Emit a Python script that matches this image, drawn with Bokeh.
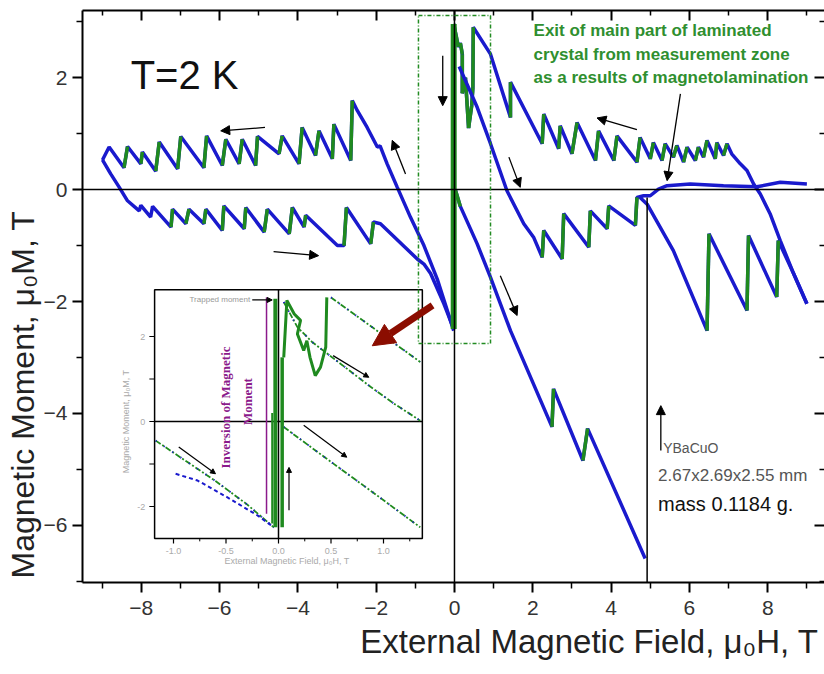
import numpy as np
from bokeh.plotting import figure
from bokeh.models import (Range1d, LinearAxis, FixedTicker, Label, Span, Arrow, Title,
                          NormalHead, ColumnDataSource, BoxAnnotation)
from bokeh.core.properties import value
from bokeh.embed import file_html
from bokeh.resources import INLINE

BLUE = "#1a1acd"
GREEN = "#1f8a1f"
FONT = "Liberation Sans"

# ---------------- main data: field (T) vs moment (T) ----------------
ul_x = [-8.99, -8.82, -8.44, -8.35, -8.01, -7.97, -7.63, -7.54, -7.07, -6.99, -6.40, -6.33, -5.93,
        -5.84, -5.50, -5.42, -5.08, -5.03, -4.48, -4.40, -3.97, -3.89, -3.55, -3.46, -3.12, -3.08,
        -2.65, -2.61, -2.48, -2.23, -1.97, -1.90, -1.72, -1.46, -1.12, -0.78, -0.44, -0.02]
ul_y = [0.53, 0.76, 0.39, 0.77, 0.46, 0.67, 0.33, 0.85, 0.37, 0.95, 0.39, 0.96, 0.43,
        0.90, 0.46, 0.90, 0.43, 0.95, 0.64, 0.96, 0.46, 1.11, 0.61, 1.05, 0.55, 1.17,
        0.52, 1.59, 1.41, 1.11, 0.76, 0.78, 0.46, 0.04, -0.50, -1.00, -1.60, -2.52]

ll_x = [-8.99, -8.78, -8.56, -8.35, -8.05, -8.01, -7.76, -7.71, -7.24, -7.20, -6.86, -6.78, -6.40,
        -6.35, -5.93, -5.89, -5.37, -5.33, -4.86, -4.78, -4.22, -4.14, -3.84, -3.80, -2.99, -2.82,
        -2.76, -2.14, -2.07, -1.89, -0.95, -0.78, -0.61, -0.27, -0.02]
ll_y = [0.53, 0.28, 0.04, -0.20, -0.38, -0.28, -0.49, -0.30, -0.67, -0.35, -0.61, -0.35, -0.61,
        -0.35, -0.73, -0.29, -0.70, -0.32, -0.76, -0.35, -0.79, -0.32, -0.67, -0.46, -1.00, -1.00,
        -0.32, -0.97, -0.58, -0.61, -1.24, -1.33, -1.50, -2.04, -2.49]

ur_x = [-0.02, 0.10, 0.15, 0.20, 0.20, 0.28, 0.36, 0.44, 0.47, 0.48, 0.92, 1.43, 1.43, 2.24, 2.28,
        2.66, 2.70, 3.00, 3.13, 3.60, 3.68, 4.07, 4.15, 4.66, 4.74, 5.00, 5.08, 5.30, 5.38, 5.59,
        5.68, 5.85, 5.94, 6.15, 6.23, 6.36, 6.45, 6.66, 6.70, 6.87, 6.96, 7.08, 7.30, 7.47, 7.64,
        7.81, 8.06, 8.32, 8.66, 9.00]
ur_y = [2.96, 2.55, 2.62, 2.42, 1.72, 2.00, 1.10, 1.50, 1.82, 2.90, 2.42, 1.29, 1.92, 0.82, 1.35,
        0.73, 1.14, 0.64, 1.20, 0.52, 1.05, 0.52, 0.96, 0.49, 0.93, 0.55, 0.84, 0.52, 0.82, 0.58,
        0.79, 0.49, 0.76, 0.52, 0.76, 0.58, 0.88, 0.55, 0.84, 0.61, 0.82, 0.64, 0.46, 0.34, 0.10,
        -0.08, -0.43, -0.91, -1.50, -2.04]

mid_x = [0.12, 0.58, 0.92, 1.34, 1.77, 2.02, 2.24, 2.28, 2.75, 2.79, 3.43, 3.47, 3.90, 3.94, 4.62,
         4.66, 4.83, 5.00, 5.21, 5.43, 6.02, 6.87, 7.72, 8.32, 9.00]
mid_y = [2.20, 1.47, 0.82, -0.02, -0.61, -0.85, -1.21, -0.73, -1.24, -0.43, -1.03, -0.38, -0.70,
         -0.29, -0.64, -0.14, -0.11, -0.11, 0.01, 0.07, 0.10, 0.07, 0.05, 0.13, 0.10]

vir_x = [0.02, 0.15, 0.58, 0.92, 1.43, 2.49, 2.53, 3.28, 3.40, 4.87]
vir_y = [0.00, -0.30, -0.97, -1.57, -2.52, -4.24, -3.56, -4.84, -4.27, -6.59]

rd_x = [4.74, 4.92, 5.59, 6.45, 6.50, 7.47, 7.51, 8.23, 8.27, 8.66, 9.00]
rd_y = [-0.14, -0.26, -1.09, -2.52, -0.79, -2.16, -0.82, -1.92, -0.91, -1.50, -2.04]

jump_x = [-0.02, -0.02]
jump_y = [-2.49, 2.96]

exit_x = [4.92, 4.92]
exit_y = [-0.14, -7.55]

x_major = [-8, -6, -4, -2, 0, 2, 4, 6, 8]
x_minor = [-9, -7, -5, -3, -1, 1, 3, 5, 7, 9]
y_major = [-6, -4, -2, 0, 2]
y_minor = [-7, -5, -3, -1, 1, 3]

arr_x0 = [-4.84, -4.62, -1.25, -0.30, 1.39, 1.17, 4.66, 5.77, 5.27]
arr_y0 = [1.11, -1.11, 0.28, 2.39, 0.58, -1.54, 1.07, 1.71, -4.66]
arr_x1 = [-5.97, -3.47, -1.59, -0.30, 1.68, 1.60, 3.64, 5.43, 5.27]
arr_y1 = [1.05, -1.18, 0.88, 1.50, 0.04, -2.25, 1.28, 0.16, -3.86]

# ---------------- inset data ----------------
in_a_x = [0.50, 1.35]
in_a_y = [2.92, 1.40]
in_b_x = [0.05, 0.18, 0.32, 0.59, 0.88, 1.10, 1.35]
in_b_y = [2.81, 2.22, 1.87, 1.36, 0.81, 0.42, 0.02]
in_c_x = [0.05, 0.45, 0.90, 1.35]
in_c_y = [-0.13, -0.86, -1.67, -2.49]
in_d_x = [-1.17, -0.60, -0.30, -0.045]
in_d_y = [-0.45, -1.40, -1.95, -2.49]
in_e_x = [-0.98, -0.77, -0.49, -0.20, -0.045]
in_e_y = [-1.23, -1.39, -1.78, -2.21, -2.49]
in_osc_x = [0.05, 0.08, 0.15, 0.21, 0.18, 0.24, 0.27, 0.30, 0.35, 0.40, 0.45, 0.46]
in_osc_y = [1.51, 2.85, 2.53, 2.38, 2.06, 1.67, 1.90, 1.51, 1.08, 1.28, 1.75, 2.92]
in_v1_x = [-0.03, -0.03]
in_v1_y = [-2.49, 2.89]
in_v2_x = [0.035, 0.035]
in_v2_y = [-2.49, 1.51]
in_v3_x = [-0.06, -0.06]
in_v3_y = [-2.40, 0.20]
in_purple_x = [-0.114, -0.114]
in_purple_y = [2.92, -2.17]
in_x_ticks = [-1.0, -0.5, 0.0, 0.5, 1.0]
in_x_minor = [-0.75, -0.25, 0.25, 0.75, 1.25]
in_x_labels = ["-1.0", "-0.5", "0.0", "0.5", "1.0"]
in_y_ticks = [-2, -1, 0, 1, 2]
in_y_labels = ["-2", "0", "2"]
in_y_label_pos = [-2, 0, 2]

in_arr_x0 = [0.52, 0.24, -0.95, 0.10, -0.25]
in_arr_y0 = [1.55, -0.09, -0.60, -2.09, 2.86]
in_arr_x1 = [0.86, 0.65, -0.60, 0.10, -0.06]
in_arr_y1 = [1.04, -0.84, -1.23, -1.08, 2.86]

IN_L, IN_R, IN_B, IN_T = -1.18, 1.37, -2.75, 3.10

# ---------------- figure ----------------
p = figure(width=824, height=674, x_range=Range1d(-9.5, 9.45), y_range=Range1d(-7.02, 3.2),
           output_backend="svg", toolbar_location=None,
           min_border_left=82, min_border_right=0, min_border_top=10, min_border_bottom=92)
p.extra_x_ranges = {"ix": Range1d((82 - 278) / 105.0, (824 - 278) / 105.0)}
p.extra_y_ranges = {"iy": Range1d((421 - 582) / 42.5, (421 - 10) / 42.5)}
p.grid.visible = False
p.outline_line_color = None
p.background_fill_color = "white"
p.border_fill_color = "white"

for ax, maj, mnr in ((p.xaxis, x_major, x_minor), (p.yaxis, y_major, y_minor)):
    ax.ticker = FixedTicker(ticks=maj, minor_ticks=mnr)
    ax.axis_line_width = 2
    ax.major_tick_line_width = 2
    ax.minor_tick_line_width = 1.5
    ax.major_tick_out = 10
    ax.major_tick_in = 0
    ax.minor_tick_out = 6
    ax.minor_tick_in = 0
    ax.major_label_text_font = FONT
    ax.major_label_text_font_size = "21px"
    ax.major_label_text_color = "#333333"
p.xaxis.major_label_standoff = 8
p.yaxis.major_label_standoff = 5

for loc, maj, mnr in (("above", x_major, x_minor), ("right", y_major, y_minor)):
    a = LinearAxis(ticker=FixedTicker(ticks=maj, minor_ticks=mnr),
                   major_tick_in=10, major_tick_out=0, minor_tick_in=5, minor_tick_out=0,
                   major_label_text_font_size="1px", major_label_text_color=None,
                   major_label_standoff=0,
                   axis_line_width=2, major_tick_line_width=2, minor_tick_line_width=1.5,
                   axis_line_color="black" if loc == "above" else None)
    p.add_layout(a, loc)

# axis titles as side titles (outside the frame)
p.add_layout(Title(text="External Magnetic Field, μ₀H, T", align="right", offset=6, standoff=6,
                   text_font=FONT, text_font_size="33px", text_font_style="normal",
                   text_color="#222222"), "below")
p.add_layout(Title(text="Magnetic Moment, μ₀M, T", align="left", offset=4, standoff=0,
                   text_font=FONT, text_font_size="32px", text_font_style="normal",
                   text_color="#222222"), "left")

# zero lines
p.add_layout(Span(location=0, dimension="width", line_color="black", line_width=1.5))
p.add_layout(Span(location=0, dimension="height", line_color="black", line_width=1.5))

# dashed selection box
p.add_layout(BoxAnnotation(left=-0.92, right=0.92, bottom=-2.75, top=3.11, fill_alpha=0,
                           line_color="#228b22", line_alpha=1.0, line_width=1.5,
                           line_dash="4 2 1 2"))


def branch(xs, ys, width=3.5):
    p.line(xs, ys, line_color=BLUE, line_width=width)
    gx0, gy0, gx1, gy1 = [], [], [], []
    for i in range(len(xs) - 1):
        if abs(xs[i + 1] - xs[i]) < 0.15 and abs(ys[i + 1] - ys[i]) > 0.2:
            gx0.append(xs[i]); gy0.append(ys[i]); gx1.append(xs[i + 1]); gy1.append(ys[i + 1])
    p.segment(gx0, gy0, gx1, gy1, line_color=GREEN, line_width=width)


for bx, by in ((ul_x, ul_y), (ll_x, ll_y), (ur_x, ur_y), (mid_x, mid_y), (vir_x, vir_y), (rd_x, rd_y)):
    branch(bx, by)

p.line(jump_x, jump_y, line_color=GREEN, line_width=6)
p.line(exit_x, exit_y, line_color="black", line_width=1.5)

# black arrows
asrc = ColumnDataSource(dict(x0=arr_x0, y0=arr_y0, x1=arr_x1, y1=arr_y1))
p.add_layout(Arrow(end=NormalHead(size=9, fill_color="black", line_color="black"), source=asrc,
                   x_start="x0", y_start="y0", x_end="x1", y_end="y1", line_width=1.3))

# ---------------- inset ----------------
IR = dict(x_range_name="ix", y_range_name="iy")
p.quad(left=[IN_L], right=[IN_R], bottom=[IN_B], top=[IN_T], fill_color="white",
       line_color="black", line_width=1.5, **IR)
p.segment(x0=[IN_L, 0], y0=[0, IN_B], x1=[IN_R, 0], y1=[0, IN_T], line_color="black", line_width=1.5, **IR)
p.segment(x0=in_x_ticks, y0=[IN_B] * 5, x1=in_x_ticks, y1=[IN_B - 0.12] * 5, line_color="black", line_width=1.2, **IR)
p.segment(x0=in_x_minor, y0=[IN_B] * 5, x1=in_x_minor, y1=[IN_B - 0.07] * 5, line_color="black", line_width=1, **IR)
p.segment(x0=[IN_L] * 5, y0=in_y_ticks, x1=[IN_L - 0.05] * 5, y1=in_y_ticks, line_color="black", line_width=1.2, **IR)

for ix, iy in ((in_a_x, in_a_y), (in_b_x, in_b_y), (in_c_x, in_c_y), (in_d_x, in_d_y)):
    p.line(ix, iy, line_color=GREEN, line_width=1.8, line_dash="6 2 2 2", **IR)
    p.line(ix, iy, line_color=BLUE, line_width=2, line_dash="1 9", **IR)
p.line(in_e_x, in_e_y, line_color=BLUE, line_width=2, line_dash="4 3", **IR)
p.line(in_osc_x, in_osc_y, line_color=GREEN, line_width=3, **IR)
p.line(in_v1_x, in_v1_y, line_color=GREEN, line_width=4, **IR)
p.line(in_v2_x, in_v2_y, line_color=GREEN, line_width=3.5, **IR)
p.line(in_v3_x, in_v3_y, line_color=GREEN, line_width=2, **IR)
p.line(in_purple_x, in_purple_y, line_color="#8b1a8b", line_width=1.5, **IR)

isrc = ColumnDataSource(dict(x0=in_arr_x0, y0=in_arr_y0, x1=in_arr_x1, y1=in_arr_y1))
p.add_layout(Arrow(end=NormalHead(size=5, fill_color="black", line_color="black"), source=isrc,
                   x_start="x0", y_start="y0", x_end="x1", y_end="y1", line_width=1.2, **IR))

p.text(x=in_x_ticks, y=[IN_B - 0.22] * 5, text=in_x_labels, text_font=value(FONT),
       text_font_size="9px", text_color="#aaaaaa", text_align="center", text_baseline="top", **IR)
p.text(x=[IN_L - 0.09] * 3, y=in_y_label_pos, text=in_y_labels, text_font=value(FONT),
       text_font_size="9px", text_color="#aaaaaa", text_align="right", text_baseline="middle", **IR)

p.add_layout(Label(x=0.08, y=-3.28, text="External Magnetic Field, μ₀H, T", text_font=FONT,
                   text_font_size="9px", text_color="#aaaaaa", text_align="center",
                   text_baseline="middle", **IR))
p.add_layout(Label(x=-1.45, y=0.0, text="Magnetic Moment, μ₀M, T", text_font=FONT, angle=np.pi / 2,
                   text_font_size="9px", text_color="#aaaaaa", text_align="center",
                   text_baseline="middle", **IR))
p.add_layout(Label(x=-0.27, y=2.86, text="Trapped moment", text_font=FONT,
                   text_font_size="8px", text_color="#999999", text_align="right",
                   text_baseline="middle", **IR))
p.add_layout(Label(x=-0.505, y=0.33, text="Inversion of Magnetic", text_font="Liberation Serif",
                   text_font_style="bold", angle=np.pi / 2, text_font_size="13px",
                   text_color="#8b1a8b", text_align="center", text_baseline="middle", **IR))
p.add_layout(Label(x=-0.295, y=0.47, text="Moment", text_font="Liberation Serif",
                   text_font_style="bold", angle=np.pi / 2, text_font_size="13px",
                   text_color="#8b1a8b", text_align="center", text_baseline="middle", **IR))

# red arrow
p.add_layout(Arrow(end=NormalHead(size=22, fill_color="#8b0d00", line_color="#8b0d00"),
                   x_start=-0.56, y_start=-2.07, x_end=-2.1, y_end=-2.79,
                   line_color="#8b0d00", line_width=7))

# ---------------- texts ----------------
p.add_layout(Label(x=-8.27, y=2.04, text="T=2 K", text_font=FONT, text_font_size="40px",
                   text_color="#111111", text_baseline="alphabetic"))
for i, line in enumerate(["Exit of main part of laminated",
                          "crystal from measurement zone",
                          "as a results of magnetolamination"]):
    p.add_layout(Label(x=2.02, y=2.84 - 0.42 * i, text=line, text_font=FONT, text_font_style="bold",
                       text_font_size="17px", text_color="#2f8f2f", text_baseline="alphabetic"))
p.add_layout(Label(x=5.33, y=-4.61, text="YBaCuO", text_font=FONT, text_font_size="14px",
                   text_color="#555555", text_baseline="alphabetic"))
p.add_layout(Label(x=5.2, y=-5.11, text="2.67x2.69x2.55 mm", text_font=FONT, text_font_size="17px",
                   text_color="#555555", text_baseline="alphabetic"))
p.add_layout(Label(x=5.2, y=-5.61, text="mass 0.1184 g.", text_font=FONT, text_font_size="20px",
                   text_color="#111111", text_baseline="alphabetic"))

open("out.html", "w").write(file_html(p, INLINE))
